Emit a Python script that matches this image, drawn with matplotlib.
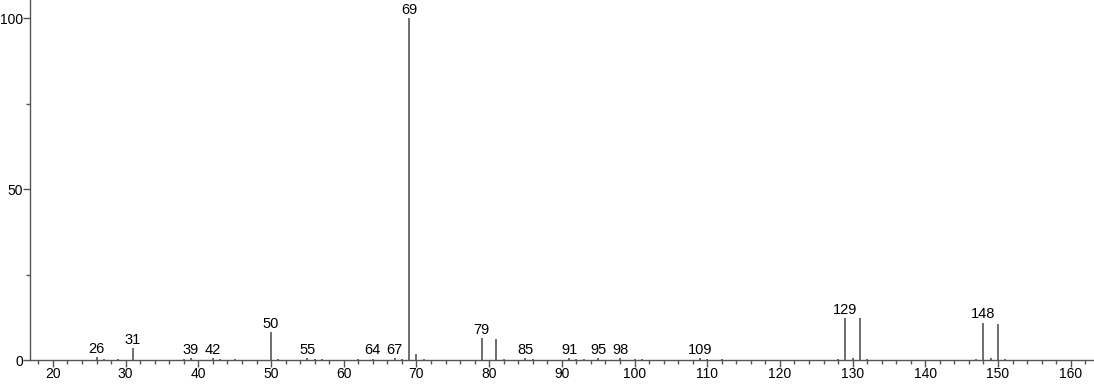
import matplotlib.pyplot as plt
from matplotlib.ticker import MultipleLocator

plt.rcParams['font.family'] = ['Liberation Sans', 'DejaVu Sans']

# m/z and relative intensity
mz = [26, 27, 29, 31, 38, 39, 42, 43, 45, 50, 51, 55, 56, 57, 62, 64, 67, 68,
      69, 70, 71, 79, 81, 82, 85, 86, 91, 92, 93, 95, 98, 100, 101, 109, 110,
      112, 128, 129, 130, 131, 132, 147, 148, 149, 150, 151]
intensity = [0.8, 0.3, 0.3, 3.4, 0.3, 0.6, 0.6, 0.3, 0.2, 8.1, 0.4, 0.6, 0.3, 0.3, 0.2, 0.4, 0.5, 0.3,
             100.0, 1.8, 0.3, 6.3, 6.0, 0.3, 0.5, 0.3, 0.5, 0.3, 0.2, 0.5, 0.5, 0.3, 0.2, 0.5, 0.3,
             0.3, 0.3, 12.3, 0.5, 12.4, 0.4, 0.4, 10.9, 0.5, 10.5, 0.4]
labeled = [26, 31, 39, 42, 50, 55, 64, 67, 69, 79, 85, 91, 95, 98, 109, 129, 148]

fig = plt.figure(figsize=(10.94, 3.84), dpi=100)
ax = fig.add_axes([0.0274, 0.0625, 0.9726, 0.9375])

ax.vlines(mz, 0, intensity, colors='#555555', linewidth=1.2)

for m, v in zip(mz, intensity):
    if m in labeled:
        ax.annotate(str(m), xy=(m, v), xytext=(0, 1), textcoords='offset points',
                    ha='center', va='bottom', fontsize=10.5)

ax.set_xlim(16.84, 163.2)
ax.set_ylim(0, 105.3)
ax.xaxis.set_major_locator(MultipleLocator(10))
ax.xaxis.set_minor_locator(MultipleLocator(2))
ax.yaxis.set_major_locator(MultipleLocator(50))
ax.yaxis.set_minor_locator(MultipleLocator(25))
ax.set_xticks(range(20, 161, 10))

for s in ['top', 'right']:
    ax.spines[s].set_visible(False)
for s in ['left', 'bottom']:
    ax.spines[s].set_color('#555555')
    ax.spines[s].set_linewidth(1.0)

ax.tick_params(which='major', length=5, width=1, color='#555555', labelsize=10, pad=0)
ax.tick_params(which='minor', length=3, width=1, color='#555555')

fig.savefig('out.png', dpi=100)
